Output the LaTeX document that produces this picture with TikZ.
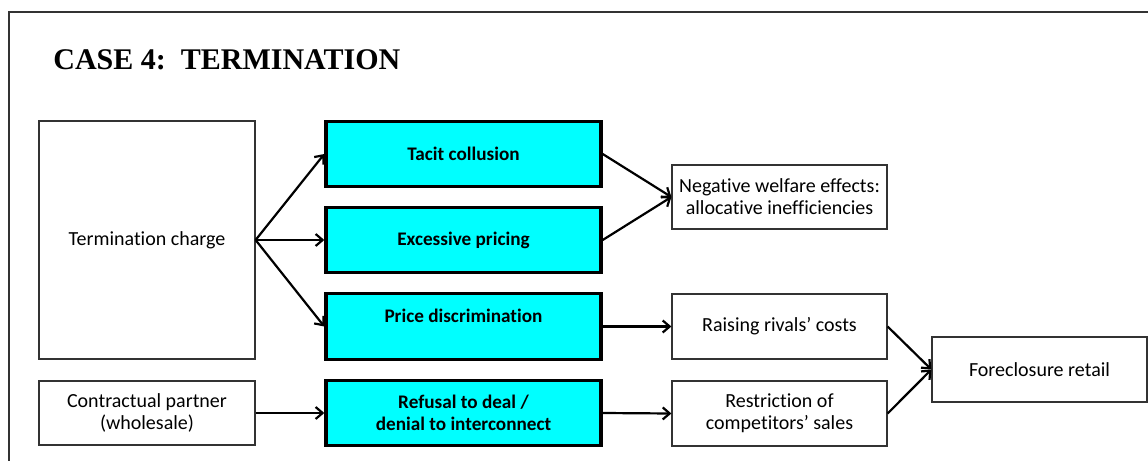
\documentclass[tikz,border=0pt]{standalone}
\usepackage{fontspec}
\setmainfont{Carlito}[Ligatures=NoCommon]
\newfontfamily\titlefont{Liberation Serif}
\usetikzlibrary{arrows.meta}
\definecolor{boxcyan}{RGB}{0,255,255}
\begin{document}
\begin{tikzpicture}[x=0.5pt,y=-0.5pt,
  box/.style={draw=black!80,line width=0.6pt,align=center,inner sep=0pt,
    minimum width=107.5pt,font=\fontsize{10}{11}\selectfont},
  keybox/.style={draw=black,line width=1.7pt,fill=boxcyan,align=center,inner sep=0pt,
    minimum width=137.5pt,minimum height=32.5pt,font=\fontsize{9.6}{11}\selectfont\bfseries},
  arr/.style={line width=1.1pt,-{Straight Barb[length=3.5pt,width=6pt]}}]
  \clip (0,0) rectangle (1148,461);
  % Rahmen
  \draw[line width=0.8pt,black!80] (9,480) -- (9,12) -- (1170,12);
  \node[anchor=base west,inner sep=0pt,font=\titlefont\fontsize{15}{18}\selectfont\bfseries]
    (title) at (53,69) {CASE 4:\ \ TERMINATION};
  % Ausgangspunkte
  \node[box,minimum width=108pt,minimum height=119pt] (term) at (147,240) {Termination charge};
  \node[box,minimum width=108pt,minimum height=32pt] (partner) at (147,413)
    {Contractual partner\\(wholesale)};
  % Verhalten
  \node[keybox] (tacit) at (463.5,154) {Tacit collusion};
  \node[keybox] (excess) at (463.5,240) {Excessive pricing};
  \node[keybox,minimum height=33pt] (price) at (463.5,326.5) {Price discrimination\\\mbox{}};
  \node[keybox] (refusal) at (463.5,413) {Refusal to deal /\\denial to interconnect};
  % Wirkungen
  \node[box,minimum height=32pt] (welfare) at (779.5,197)
    {Negative welfare effects:\\allocative inefficiencies};
  \node[box,minimum height=32.5pt] (rivals) at (779.5,326.5) {Raising rivals’ costs};
  \node[box,minimum height=32.5pt] (restrict) at (779.5,413.5)
    {Restriction of\\competitors’ sales};
  \node[box,minimum height=32.5pt] (foreclose) at (1039.5,369.5) {Foreclosure retail};
  % Pfeile
  \foreach \t in {tacit,excess,price} {
    \draw[arr] (term.east) -- (\t.west);
  }
  \draw[arr] (partner.east) -- (refusal.west);
  \foreach \t in {tacit,excess} {
    \draw[arr] (\t.east) -- (welfare.west);
  }
  \draw[arr] (price.east) -- (rivals.west);
  \draw[arr] (refusal.east) -- (restrict.west);
  \foreach \t in {rivals,restrict} {
    \draw[arr] (\t.east) -- (foreclose.west);
  }
\end{tikzpicture}
\end{document}
